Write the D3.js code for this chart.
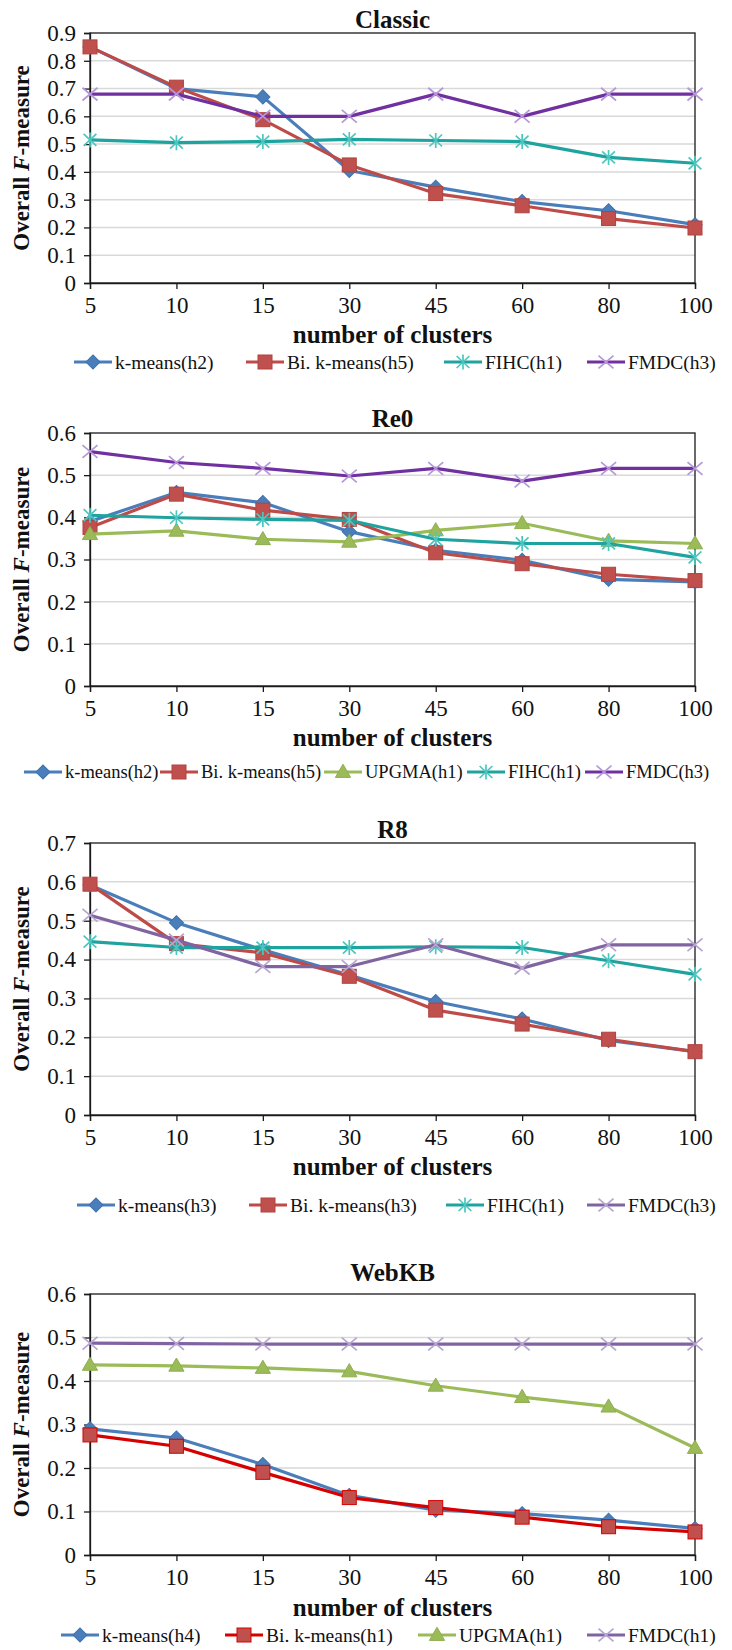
<!DOCTYPE html>
<html><head><meta charset="utf-8">
<script src="https://cdn.jsdelivr.net/npm/d3@7"></script>
<style>body{margin:0;background:#fff} svg{display:block}</style>
</head><body>
<svg id="c" width="732" height="1650"></svg>
<script>
// ---------- data ----------
const categories = ["5","10","15","30","45","60","80","100"];

const classicKmeans   = [0.85, 0.70, 0.67, 0.405, 0.345, 0.293, 0.26, 0.21];
const classicBiKmeans = [0.85, 0.705, 0.588, 0.425, 0.322, 0.278, 0.232, 0.198];
const classicFIHC     = [0.515, 0.505, 0.509, 0.517, 0.513, 0.509, 0.452, 0.431];
const classicFMDC     = [0.68, 0.68, 0.60, 0.60, 0.68, 0.60, 0.68, 0.68];

const re0Kmeans   = [0.39, 0.459, 0.435, 0.366, 0.322, 0.298, 0.253, 0.247];
const re0BiKmeans = [0.376, 0.455, 0.417, 0.395, 0.316, 0.29, 0.265, 0.25];
const re0UPGMA    = [0.36, 0.368, 0.348, 0.342, 0.369, 0.386, 0.344, 0.338];
const re0FIHC     = [0.405, 0.399, 0.395, 0.393, 0.348, 0.338, 0.338, 0.305];
const re0FMDC     = [0.556, 0.53, 0.516, 0.498, 0.516, 0.486, 0.516, 0.516];

const r8Kmeans   = [0.592, 0.495, 0.425, 0.36, 0.292, 0.247, 0.192, 0.163];
const r8BiKmeans = [0.594, 0.441, 0.417, 0.357, 0.27, 0.234, 0.195, 0.163];
const r8FIHC     = [0.446, 0.431, 0.431, 0.431, 0.433, 0.431, 0.397, 0.362];
const r8FMDC     = [0.514, 0.45, 0.382, 0.382, 0.438, 0.378, 0.438, 0.438];

const webkbKmeans   = [0.29, 0.269, 0.208, 0.137, 0.103, 0.095, 0.08, 0.061];
const webkbBiKmeans = [0.276, 0.25, 0.19, 0.132, 0.109, 0.087, 0.065, 0.053];
const webkbUPGMA    = [0.437, 0.435, 0.43, 0.422, 0.389, 0.363, 0.341, 0.246];
const webkbFMDC     = [0.487, 0.486, 0.485, 0.485, 0.485, 0.485, 0.485, 0.485];

const yTicks9 = [0, 0.1, 0.2, 0.3, 0.4, 0.5, 0.6, 0.7, 0.8, 0.9];
const yTicks6 = [0, 0.1, 0.2, 0.3, 0.4, 0.5, 0.6];
const yTicks7 = [0, 0.1, 0.2, 0.3, 0.4, 0.5, 0.6, 0.7];

const chartTitles = ["Classic", "Re0", "R8", "WebKB"];
const xAxisTitle = "number of clusters";

// ---------- styles ----------
const ST = {
  kmeans: {line:"#4A7EBB", fill:"#4A7EBB", stroke:"#3F72AF", shape:"diamond"},
  bik:    {line:"#BE4B48", fill:"#C0504D", stroke:"#B0433F", shape:"square"},
  bikRed: {line:"#D60000", fill:"#C0504D", stroke:"#D60000", shape:"square"},
  upgma:  {line:"#9BBB59", fill:"#9BBB59", stroke:"#8FAE4F", shape:"triangle"},
  fihc:   {line:"#1FA39E", fill:"none", stroke:"#4CC6BF", shape:"asterisk"},
  fmdc:   {line:"#7030A0", fill:"none", stroke:"#B597DA", shape:"x"},
  fmdcL:  {line:"#8064A2", fill:"none", stroke:"#B7A4D0", shape:"x"}
};

const charts = [
  {title:chartTitles[0], top:33, bottom:283, ticks:yTicks9, titleY:19, xlabelY:334, legendY:362,
   legendX:[74,246,444,587], legendFont:19.5,
   series:[
     {name:"k-means(h2)", values:classicKmeans, st:ST.kmeans},
     {name:"Bi. k-means(h5)", values:classicBiKmeans, st:ST.bik},
     {name:"FIHC(h1)", values:classicFIHC, st:ST.fihc},
     {name:"FMDC(h3)", values:classicFMDC, st:ST.fmdc}]},
  {title:chartTitles[1], top:433, bottom:686, ticks:yTicks6, titleY:418, xlabelY:737, legendY:772,
   legendX:[24,160,324,467,585], legendFont:18.5,
   series:[
     {name:"k-means(h2)", values:re0Kmeans, st:ST.kmeans},
     {name:"Bi. k-means(h5)", values:re0BiKmeans, st:ST.bik},
     {name:"UPGMA(h1)", values:re0UPGMA, st:ST.upgma},
     {name:"FIHC(h1)", values:re0FIHC, st:ST.fihc},
     {name:"FMDC(h3)", values:re0FMDC, st:ST.fmdc}]},
  {title:chartTitles[2], top:843, bottom:1115, ticks:yTicks7, titleY:829, xlabelY:1166, legendY:1205,
   legendX:[77,249,446,587], legendFont:19.5,
   series:[
     {name:"k-means(h3)", values:r8Kmeans, st:ST.kmeans},
     {name:"Bi. k-means(h3)", values:r8BiKmeans, st:ST.bik},
     {name:"FIHC(h1)", values:r8FIHC, st:ST.fihc},
     {name:"FMDC(h3)", values:r8FMDC, st:ST.fmdcL}]},
  {title:chartTitles[3], top:1294, bottom:1555, ticks:yTicks6, titleY:1272, xlabelY:1607, legendY:1635,
   legendX:[61,225,418,587], legendFont:19.5,
   series:[
     {name:"k-means(h4)", values:webkbKmeans, st:ST.kmeans},
     {name:"Bi. k-means(h1)", values:webkbBiKmeans, st:ST.bikRed},
     {name:"UPGMA(h1)", values:webkbUPGMA, st:ST.upgma},
     {name:"FMDC(h1)", values:webkbFMDC, st:ST.fmdcL}]}
];

const LEFT = 90, RIGHT = 695;
const SERIF = "'Liberation Serif','Times New Roman',serif";
const svg = d3.select("#c");

function drawMarker(g, x, y, st) {
  const s = st.shape;
  if (s === "diamond") {
    g.append("rect").attr("x", -5).attr("y", -5).attr("width", 10).attr("height", 10)
      .attr("transform", `translate(${x},${y}) rotate(45)`)
      .attr("fill", st.fill).attr("stroke", st.stroke).attr("stroke-width", 1);
  } else if (s === "square") {
    g.append("rect").attr("x", x - 7).attr("y", y - 7).attr("width", 14).attr("height", 14)
      .attr("fill", st.fill).attr("stroke", st.stroke).attr("stroke-width", 1);
  } else if (s === "triangle") {
    g.append("path").attr("d", d3.symbol(d3.symbolTriangle, 100)())
      .attr("transform", `translate(${x},${y+1})`)
      .attr("fill", st.fill).attr("stroke", st.stroke).attr("stroke-width", 1);
  } else if (s === "asterisk") {
    const r = 7.5;
    g.append("path").attr("d", `M${x},${y-r}L${x},${y+r}M${x-r*0.85},${y-r*0.8}L${x+r*0.85},${y+r*0.8}M${x+r*0.85},${y-r*0.8}L${x-r*0.85},${y+r*0.8}`)
      .attr("stroke", st.stroke).attr("stroke-width", 1.7).attr("fill", "none");
  } else if (s === "x") {
    const r = 7.5;
    g.append("path").attr("d", `M${x-r},${y-r*0.85}L${x+r},${y+r*0.85}M${x+r},${y-r*0.85}L${x-r},${y+r*0.85}`)
      .attr("stroke", st.stroke).attr("stroke-width", 1.7).attr("fill", "none");
  }
}

charts.forEach(ch => {
  const x = d3.scalePoint().domain(categories).range([LEFT, RIGHT]).padding(0);
  const yMax = d3.max(ch.ticks);
  const y = d3.scaleLinear().domain([0, yMax]).range([ch.bottom, ch.top]);
  const g = svg.append("g");

  // gridlines
  g.append("g").selectAll("line").data(ch.ticks.filter(t => t > 0 && t < yMax)).join("line")
    .attr("x1", LEFT).attr("x2", RIGHT).attr("y1", d => y(d)).attr("y2", d => y(d))
    .attr("stroke", "#D9D9D9").attr("stroke-width", 1.5);

  // frame
  g.append("rect").attr("x", LEFT).attr("y", ch.top).attr("width", RIGHT - LEFT).attr("height", ch.bottom - ch.top)
    .attr("fill", "none").attr("stroke", "#1a1a1a").attr("stroke-width", 1.3);

  // axes
  const ya = g.append("g").attr("transform", `translate(${LEFT},0)`)
    .call(d3.axisLeft(y).tickValues(ch.ticks).tickFormat(d => d === 0 ? "0" : d3.format(".1f")(d)).tickSize(6).tickPadding(8));
  const xa = g.append("g").attr("transform", `translate(0,${ch.bottom})`)
    .call(d3.axisBottom(x).tickSize(6).tickPadding(8));
  [ya, xa].forEach(a => {
    a.attr("font-family", SERIF);
    a.select(".domain").attr("stroke", "#1a1a1a").attr("stroke-width", 1.3);
    a.selectAll(".tick line").attr("stroke", "#1a1a1a").attr("stroke-width", 1.3);
    a.selectAll("text").attr("font-family", SERIF).attr("font-size", 23).attr("fill", "#111");
  });

  // title
  g.append("text").attr("x", (LEFT + RIGHT) / 2).attr("y", ch.titleY).attr("text-anchor", "middle")
    .attr("dominant-baseline", "central").attr("font-family", SERIF).attr("font-weight", "bold")
    .attr("font-size", 25).attr("fill", "#111").text(ch.title);

  // y title
  const yt = g.append("text").attr("transform", `translate(21,${(ch.top + ch.bottom) / 2}) rotate(-90)`)
    .attr("text-anchor", "middle").attr("dominant-baseline", "central")
    .attr("font-family", SERIF).attr("font-weight", "bold").attr("font-size", 23).attr("fill", "#111");
  yt.append("tspan").text("Overall ");
  yt.append("tspan").attr("font-style", "italic").text("F");
  yt.append("tspan").text("-measure");

  // x title
  g.append("text").attr("x", (LEFT + RIGHT) / 2).attr("y", ch.xlabelY).attr("text-anchor", "middle")
    .attr("dominant-baseline", "central").attr("font-family", SERIF).attr("font-weight", "bold")
    .attr("font-size", 25).attr("fill", "#111").text(xAxisTitle);

  // series
  const line = d3.line().x((d, i) => x(categories[i])).y(d => y(d));
  ch.series.forEach(s => {
    const sg = g.append("g");
    sg.append("path").attr("d", line(s.values)).attr("fill", "none")
      .attr("stroke", s.st.line).attr("stroke-width", 3.2).attr("stroke-linejoin", "round");
    s.values.forEach((v, i) => drawMarker(sg, x(categories[i]), y(v), s.st));
  });

  // legend
  ch.series.forEach((s, i) => {
    const lx = ch.legendX[i], ly = ch.legendY;
    const lg = g.append("g");
    lg.append("line").attr("x1", lx).attr("x2", lx + 38).attr("y1", ly).attr("y2", ly)
      .attr("stroke", s.st.line).attr("stroke-width", 3.2);
    drawMarker(lg, lx + 19, ly, s.st);
    lg.append("text").attr("x", lx + 41).attr("y", ly).attr("dominant-baseline", "central")
      .attr("font-family", SERIF).attr("font-size", ch.legendFont).attr("fill", "#111").text(s.name);
  });
});
</script>
</body></html>
